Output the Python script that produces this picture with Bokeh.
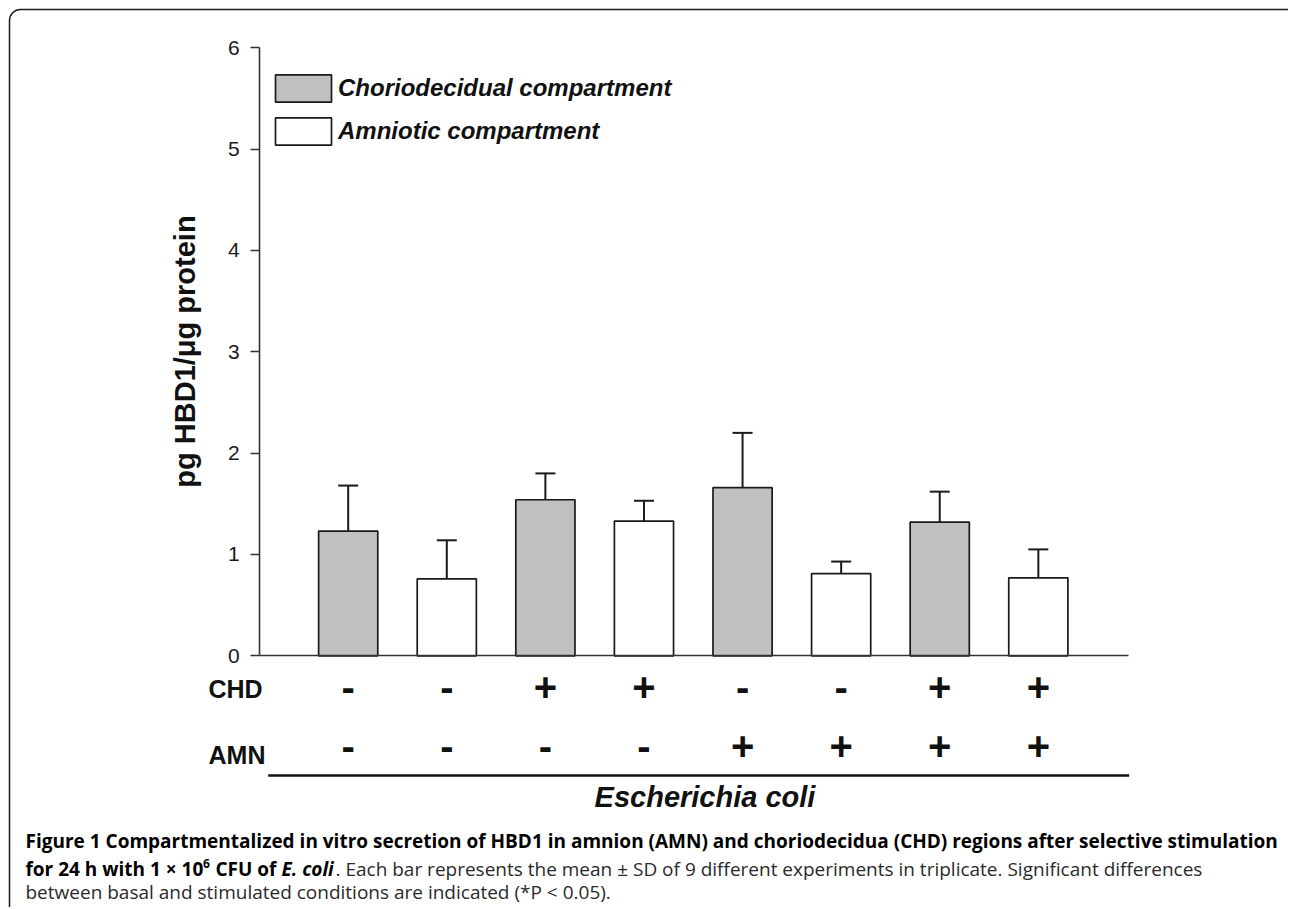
import numpy as np
import pandas as pd
from bokeh.plotting import figure
from bokeh.models import (ColumnDataSource, Range1d, FixedTicker, Whisker, TeeHead,
                          Legend, LegendItem, Label, LinearAxis, BoxAnnotation)
from bokeh.core.properties import value
from bokeh.embed import file_html
from bokeh.resources import INLINE

# ---------------- data ----------------
compartment = ["Choriodecidual compartment", "Amniotic compartment"] * 4
chd_signs = ["-", "-", "+", "+", "-", "-", "+", "+"]
amn_signs = ["-", "-", "-", "-", "+", "+", "+", "+"]
mean_hbd1 = [1.23, 0.76, 1.54, 1.33, 1.66, 0.81, 1.32, 0.77]
sd_hbd1 = [0.45, 0.38, 0.26, 0.20, 0.54, 0.12, 0.30, 0.28]
y_ticks = [0, 1, 2, 3, 4, 5, 6]
legend_labels = ["Choriodecidual compartment", "Amniotic compartment"]

# ---------------- layout helpers (picture pixel -> data) ----------------
W, H = 1288, 907
X1_PX, DX_PX = 347.7, 98.59     # pixel of first bar centre, pixels per category
Y0_PX, DY_PX = 655.3, 101.33    # pixel of y = 0, pixels per unit
AX_L, AX_R = 259.3, 1128.0      # extent of the value axis / baseline
BASE_K = 0.38                   # renderer places alphabetic text this many em lower


def xpx(px):
    return 1 + (px - X1_PX) / DX_PX


def ypx(py):
    return (Y0_PX - py) / DY_PX


def ybase(py, fs):
    """data y for a text whose alphabetic baseline should sit at picture row py"""
    return ypx(py - BASE_K * fs)


df = pd.DataFrame(dict(x=np.arange(1, len(mean_hbd1) + 1), mean=mean_hbd1, sd=sd_hbd1,
                       comp=compartment, chd=chd_signs, amn=amn_signs))
df["upper"] = df["mean"] + df["sd"]
src_all = ColumnDataSource(df)
src_c = ColumnDataSource(df[df.comp == legend_labels[0]])
src_a = ColumnDataSource(df[df.comp == legend_labels[1]])

p = figure(width=W, height=H, output_backend="svg", toolbar_location=None,
           x_range=Range1d(xpx(0), xpx(W)), y_range=Range1d(ypx(H), ypx(0)),
           x_axis_location=None, y_axis_location=None,
           min_border_left=0, min_border_right=0, min_border_top=0, min_border_bottom=0)
p.outline_line_color = None
p.grid.visible = False
p.background_fill_color = "white"
p.border_fill_color = "white"

# frame of the figure panel (rounded corner at top-left)
p.add_layout(BoxAnnotation(left=xpx(9), right=xpx(W + 30), top=ypx(9), bottom=ypx(H + 60),
                           fill_alpha=0, line_color="#1a1a1a", line_alpha=1.0, line_width=1.5,
                           border_radius=11, level="underlay"))

# value axis
yax = LinearAxis(fixed_location=xpx(AX_L), bounds=(0, 6), ticker=FixedTicker(ticks=y_ticks))
yax.minor_tick_line_color = None
yax.major_tick_in = 0
yax.major_tick_out = 9
yax.axis_line_width = 1.6
yax.axis_line_color = "#333333"
yax.major_tick_line_width = 1.6
yax.major_tick_line_color = "#333333"
yax.major_label_standoff = 11
yax.major_label_text_font = "Liberation Sans"
yax.major_label_text_font_size = "21px"
yax.major_label_text_color = "#1a1a1a"
p.add_layout(yax, "left")

# baseline (category axis line)
xax = LinearAxis(fixed_location=0, bounds=(xpx(AX_L), xpx(AX_R)), ticker=FixedTicker(ticks=[]))
xax.axis_line_width = 1.6
xax.axis_line_color = "#333333"
xax.major_tick_line_color = None
xax.minor_tick_line_color = None
xax.major_label_text_font_size = "0px"
p.add_layout(xax, "below")

p.add_layout(Label(x=xpx(184), y=ypx(351), text="pg HBD1/μg protein", angle=np.pi / 2,
                   text_align="center", text_baseline="alphabetic", text_font="Liberation Sans",
                   text_font_style="bold", text_font_size="29px", text_color="#111111"))

bar_kw = dict(x="x", top="mean", bottom=0, width=0.6, line_color="#1a1a1a", line_width=1.7)
rc = p.vbar(source=src_c, fill_color="#c0c0c0", **bar_kw)
ra = p.vbar(source=src_a, fill_color="white", **bar_kw)

wh = Whisker(base="x", upper="upper", lower="mean", source=src_all, dimension="height",
             line_color="#1a1a1a", line_width=2,
             upper_head=TeeHead(size=20, line_width=2, line_color="#1a1a1a"), lower_head=None)
p.add_layout(wh)

# legend (bar legend glyphs are drawn inset by 10 % on each side)
GW, GH = 70, 34
legend = Legend(items=[LegendItem(label=legend_labels[0], renderers=[rc]),
                       LegendItem(label=legend_labels[1], renderers=[ra])],
                location=(275 - 0.1 * GW, H - (74 - 0.1 * GH + 2 * GH + 9)),
                orientation="vertical",
                glyph_width=GW, glyph_height=GH, spacing=9, padding=0, margin=0,
                border_line_color=None, background_fill_alpha=0,
                label_text_font="Liberation Sans", label_text_font_style="bold italic",
                label_text_font_size="24px", label_standoff=0, label_text_color="#111111")
p.add_layout(legend)

# condition rows
SIGN_FS = 40
sign_kw = dict(text_align="center", text_baseline="alphabetic",
               text_font=value("Liberation Sans"), text_font_style="bold",
               text_font_size=f"{SIGN_FS}px", text_color="#111111")
p.text(x="x", y=ybase(701.5, SIGN_FS), text="chd", source=src_all, **sign_kw)
p.text(x="x", y=ybase(760.5, SIGN_FS), text="amn", source=src_all, **sign_kw)

for txt, base in (("CHD", 698), ("AMN", 764)):
    p.add_layout(Label(x=xpx(208), y=ybase(base, 25), text=txt, text_align="left",
                       text_baseline="alphabetic", text_font="Liberation Sans",
                       text_font_style="bold", text_font_size="25px", text_color="#111111"))

p.segment(x0=xpx(267.7), y0=ypx(775), x1=xpx(1128.7), y1=ypx(775),
          line_color="#111111", line_width=2.5)

p.add_layout(Label(x=xpx(704.5), y=ybase(808, 29), text="Escherichia coli", text_align="center",
                   text_baseline="alphabetic", text_font="Liberation Sans",
                   text_font_style="bold italic", text_font_size="29px", text_color="#111111"))

# caption
CAP_FS = 19
cap_font = "Open Sans"
cap = [
    ("Figure 1 Compartmentalized in vitro secretion of HBD1 in amnion (AMN) and choriodecidua (CHD) regions after selective stimulation",
     25, 848, "bold", CAP_FS, "#000000"),
    ("for 24 h with 1 × 10", 25, 875.5, "bold", CAP_FS, "#000000"),
    ("6", 202.5, 868, "bold", 12, "#000000"),
    ("CFU of", 215, 875.5, "bold", CAP_FS, "#000000"),
    ("E. coli", 281, 875.5, "bold italic", CAP_FS, "#000000"),
    (". Each bar represents the mean ± SD of 9 different experiments in triplicate. Significant differences",
     335, 875.5, "normal", CAP_FS, "#2a2a2a"),
    ("between basal and stimulated conditions are indicated (*P < 0.05).",
     25, 899, "normal", CAP_FS, "#2a2a2a"),
]
for txt, x0, base, style, fs, col in cap:
    p.add_layout(Label(x=xpx(x0), y=ybase(base, fs), text=txt, text_align="left",
                       text_baseline="alphabetic", text_font=cap_font,
                       text_font_style=style, text_font_size=f"{fs}px", text_color=col))

open("out.html", "w").write(file_html(p, INLINE))
